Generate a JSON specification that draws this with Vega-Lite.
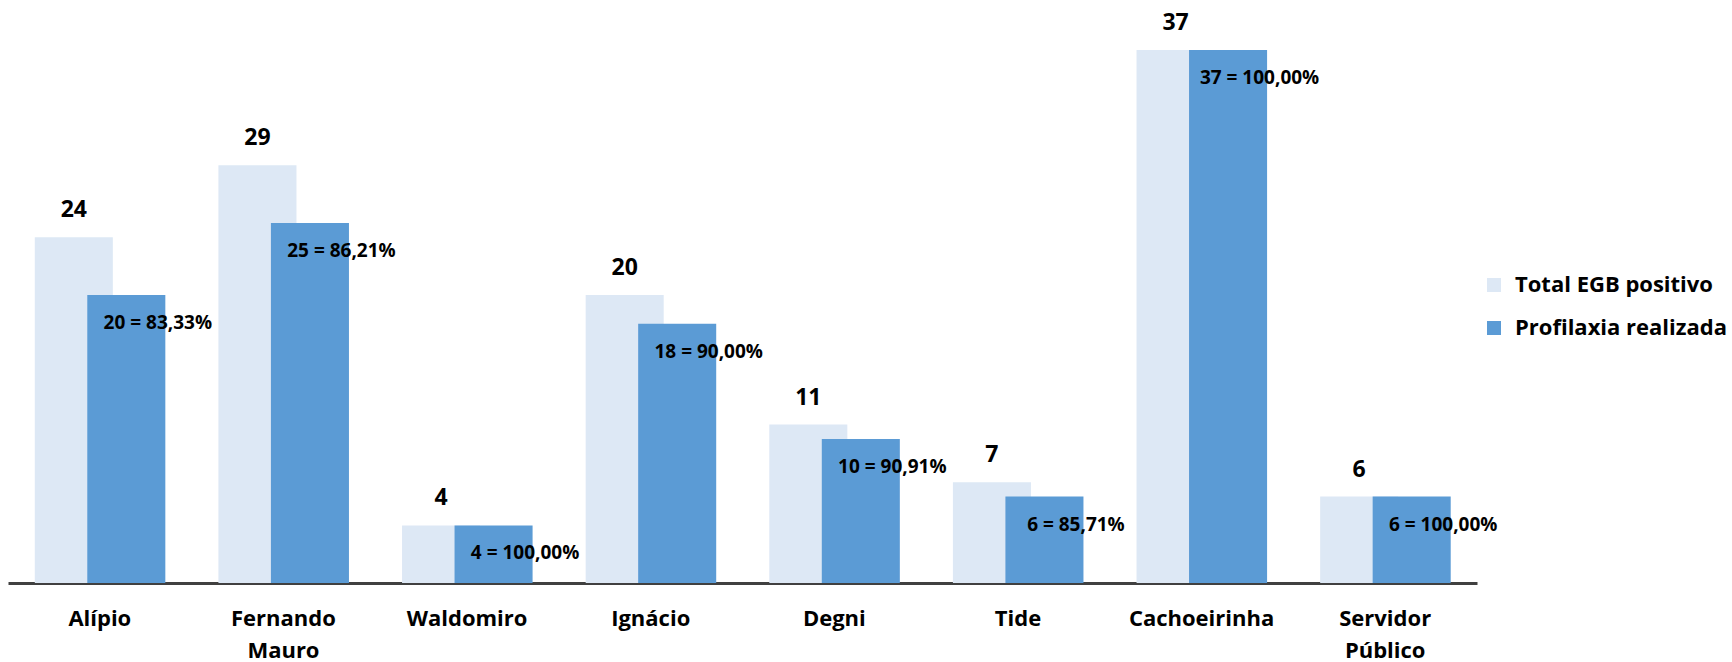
{
  "$schema": "https://vega.github.io/schema/vega-lite/v6.json",
  "width": 1469,
  "height": 583,
  "autosize": {"type": "none"},
  "padding": {"left": 8, "top": 0, "right": 255, "bottom": 79},
  "background": "white",
  "config": {"view": {"stroke": null}, "font": "Open Sans"},
  "data": {
    "values": [
      {"categoria": "Alípio", "serie": "Total EGB positivo", "valor": 24, "rotulo": "24"},
      {"categoria": "Alípio", "serie": "Profilaxia realizada", "valor": 20, "rotulo": "20 = 83,33%"},
      {"categoria": "Fernando Mauro", "serie": "Total EGB positivo", "valor": 29, "rotulo": "29"},
      {"categoria": "Fernando Mauro", "serie": "Profilaxia realizada", "valor": 25, "rotulo": "25 = 86,21%"},
      {"categoria": "Waldomiro", "serie": "Total EGB positivo", "valor": 4, "rotulo": "4"},
      {"categoria": "Waldomiro", "serie": "Profilaxia realizada", "valor": 4, "rotulo": "4 = 100,00%"},
      {"categoria": "Ignácio", "serie": "Total EGB positivo", "valor": 20, "rotulo": "20"},
      {"categoria": "Ignácio", "serie": "Profilaxia realizada", "valor": 18, "rotulo": "18 = 90,00%"},
      {"categoria": "Degni", "serie": "Total EGB positivo", "valor": 11, "rotulo": "11"},
      {"categoria": "Degni", "serie": "Profilaxia realizada", "valor": 10, "rotulo": "10 = 90,91%"},
      {"categoria": "Tide", "serie": "Total EGB positivo", "valor": 7, "rotulo": "7"},
      {"categoria": "Tide", "serie": "Profilaxia realizada", "valor": 6, "rotulo": "6 = 85,71%"},
      {"categoria": "Cachoeirinha", "serie": "Total EGB positivo", "valor": 37, "rotulo": "37"},
      {"categoria": "Cachoeirinha", "serie": "Profilaxia realizada", "valor": 37, "rotulo": "37 = 100,00%"},
      {"categoria": "Servidor Público", "serie": "Total EGB positivo", "valor": 6, "rotulo": "6"},
      {"categoria": "Servidor Público", "serie": "Profilaxia realizada", "valor": 6, "rotulo": "6 = 100,00%"}
    ]
  },
  "encoding": {
    "x": {
      "field": "categoria",
      "type": "nominal",
      "sort": null,
      "scale": {"paddingInner": 0, "paddingOuter": 0},
      "axis": {
        "title": null,
        "labelAngle": 0,
        "labelExpr": "split(datum.label, ' ')",
        "labelFontSize": 22,
        "labelFontWeight": "bold",
        "labelColor": "#000000",
        "labelPadding": 25,
        "labelLineHeight": 32,
        "ticks": false,
        "domainColor": "#404040",
        "domainWidth": 3,
        "grid": false
      }
    },
    "y": {
      "field": "valor",
      "type": "quantitative",
      "scale": {"domain": [0, 40.48], "nice": false},
      "axis": null
    }
  },
  "layer": [
    {
      "transform": [{"filter": "datum.serie == 'Total EGB positivo'"}],
      "mark": {"type": "bar", "width": {"band": 0.425}, "xOffset": -26},
      "encoding": {
        "color": {
          "field": "serie",
          "type": "nominal",
          "scale": {"domain": ["Total EGB positivo", "Profilaxia realizada"], "range": ["#DDE8F5", "#5B9BD5"]},
          "legend": {
            "orient": "none",
            "legendX": 1475,
            "legendY": 274,
            "title": null,
            "padding": 0,
            "symbolType": "square",
            "symbolSize": 196,
            "symbolStrokeWidth": 0,
            "labelFontSize": 22,
            "labelFontWeight": "bold",
            "labelColor": "#000000",
            "labelOffset": 10,
            "rowPadding": 21,
            "labelLimit": 400
          }
        }
      }
    },
    {
      "transform": [{"filter": "datum.serie == 'Profilaxia realizada'"}],
      "mark": {"type": "bar", "width": {"band": 0.425}, "xOffset": 26.5},
      "encoding": {
        "color": {"field": "serie", "type": "nominal"}
      }
    },
    {
      "transform": [{"filter": "datum.serie == 'Total EGB positivo'"}],
      "mark": {"type": "text", "xOffset": -26, "dy": -27, "baseline": "middle", "align": "center", "fontSize": 23, "fontWeight": "bold", "color": "#000000"},
      "encoding": {"text": {"field": "rotulo"}}
    },
    {
      "transform": [{"filter": "datum.serie == 'Profilaxia realizada'"}],
      "mark": {"type": "text", "xOffset": 58, "dy": 28, "baseline": "middle", "align": "center", "fontSize": 19, "fontWeight": "bold", "color": "#000000"},
      "encoding": {"text": {"field": "rotulo"}}
    }
  ]
}
